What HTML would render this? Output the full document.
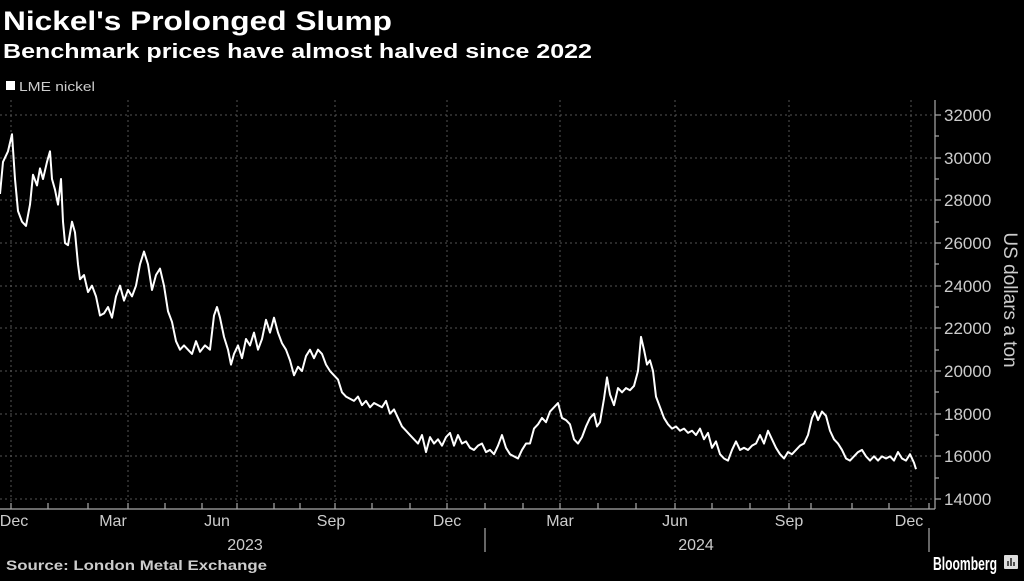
<!DOCTYPE html>
<html><head><meta charset="utf-8"><style>
body{margin:0;background:#000;width:1024px;height:576px;overflow:hidden;font-family:"Liberation Sans",sans-serif;color:#fff}
</style></head><body>
<svg width="1024" height="576" viewBox="0 0 1024 576" xmlns="http://www.w3.org/2000/svg" font-family="Liberation Sans, sans-serif">
<rect width="1024" height="576" fill="#000"/>
<text x="3" y="30" font-size="27" font-weight="bold" fill="#fff" textLength="389" lengthAdjust="spacingAndGlyphs">Nickel's Prolonged Slump</text>
<text x="3" y="58" font-size="20" font-weight="bold" fill="#fff" textLength="589" lengthAdjust="spacingAndGlyphs">Benchmark prices have almost halved since 2022</text>
<rect x="6" y="81" width="9" height="9" fill="#fff"/>
<text x="19" y="91" font-size="13" fill="#ccc" textLength="76" lengthAdjust="spacingAndGlyphs">LME nickel</text>
<g stroke="#555" stroke-dasharray="2,3" stroke-width="1">
<line x1="0" x2="933" y1="115" y2="115"/><line x1="0" x2="933" y1="158" y2="158"/><line x1="0" x2="933" y1="200" y2="200"/><line x1="0" x2="933" y1="243" y2="243"/><line x1="0" x2="933" y1="286" y2="286"/><line x1="0" x2="933" y1="328" y2="328"/><line x1="0" x2="933" y1="371" y2="371"/><line x1="0" x2="933" y1="414" y2="414"/><line x1="0" x2="933" y1="456" y2="456"/><line x1="0" x2="933" y1="499" y2="499"/>
<line x1="11" x2="11" y1="100" y2="508"/><line x1="128" x2="128" y1="100" y2="508"/><line x1="237" x2="237" y1="100" y2="508"/><line x1="335" x2="335" y1="100" y2="508"/><line x1="447" x2="447" y1="100" y2="508"/><line x1="560" x2="560" y1="100" y2="508"/><line x1="675" x2="675" y1="100" y2="508"/><line x1="789" x2="789" y1="100" y2="508"/><line x1="911" x2="911" y1="100" y2="508"/>
</g>
<g stroke="#aaa" stroke-width="1.2" fill="none">
<line x1="935" y1="100" x2="935" y2="509"/>
<line x1="0" y1="509" x2="935" y2="509"/>
<line x1="935" x2="941" y1="115" y2="115"/><line x1="935" x2="941" y1="158" y2="158"/><line x1="935" x2="941" y1="200" y2="200"/><line x1="935" x2="941" y1="243" y2="243"/><line x1="935" x2="941" y1="286" y2="286"/><line x1="935" x2="941" y1="328" y2="328"/><line x1="935" x2="941" y1="371" y2="371"/><line x1="935" x2="941" y1="414" y2="414"/><line x1="935" x2="941" y1="456" y2="456"/><line x1="935" x2="941" y1="499" y2="499"/>
<line x1="935" x2="939" y1="136" y2="136"/><line x1="935" x2="939" y1="179" y2="179"/><line x1="935" x2="939" y1="222" y2="222"/><line x1="935" x2="939" y1="264" y2="264"/><line x1="935" x2="939" y1="307" y2="307"/><line x1="935" x2="939" y1="350" y2="350"/><line x1="935" x2="939" y1="392" y2="392"/><line x1="935" x2="939" y1="435" y2="435"/><line x1="935" x2="939" y1="478" y2="478"/>
<line x1="11" x2="11" y1="503" y2="509"/><line x1="48" x2="48" y1="503" y2="509"/><line x1="88" x2="88" y1="503" y2="509"/><line x1="128" x2="128" y1="503" y2="509"/><line x1="165" x2="165" y1="503" y2="509"/><line x1="202" x2="202" y1="503" y2="509"/><line x1="237" x2="237" y1="503" y2="509"/><line x1="274" x2="274" y1="503" y2="509"/><line x1="300" x2="300" y1="503" y2="509"/><line x1="335" x2="335" y1="503" y2="509"/><line x1="372" x2="372" y1="503" y2="509"/><line x1="410" x2="410" y1="503" y2="509"/><line x1="447" x2="447" y1="503" y2="509"/><line x1="485" x2="485" y1="503" y2="509"/><line x1="523" x2="523" y1="503" y2="509"/><line x1="560" x2="560" y1="503" y2="509"/><line x1="598" x2="598" y1="503" y2="509"/><line x1="636" x2="636" y1="503" y2="509"/><line x1="675" x2="675" y1="503" y2="509"/><line x1="712" x2="712" y1="503" y2="509"/><line x1="750" x2="750" y1="503" y2="509"/><line x1="789" x2="789" y1="503" y2="509"/><line x1="811" x2="811" y1="503" y2="509"/><line x1="852" x2="852" y1="503" y2="509"/><line x1="889" x2="889" y1="503" y2="509"/><line x1="929" x2="929" y1="503" y2="509"/>
<line x1="485" x2="485" y1="528" y2="552"/><line x1="929" x2="929" y1="528" y2="552"/>
</g>
<g font-size="17" fill="#ccc">
<text x="944" y="121">32000</text><text x="944" y="164">30000</text><text x="944" y="206">28000</text><text x="944" y="249">26000</text><text x="944" y="292">24000</text><text x="944" y="334">22000</text><text x="944" y="377">20000</text><text x="944" y="420">18000</text><text x="944" y="462">16000</text><text x="944" y="505">14000</text>
</g>
<g font-size="16" fill="#ccc" text-anchor="middle">
<text x="14" y="526">Dec</text><text x="113" y="526">Mar</text><text x="217" y="526">Jun</text><text x="331" y="526">Sep</text><text x="447" y="526">Dec</text><text x="560" y="526">Mar</text><text x="675" y="526">Jun</text><text x="789" y="526">Sep</text><text x="909" y="526">Dec</text>
<text x="245" y="550">2023</text><text x="696" y="550">2024</text>
</g>
<text transform="translate(1004,300) rotate(90)" font-size="19" fill="#ccc" text-anchor="middle">US dollars a ton</text>
<g transform="matrix(1,0,0,-0.021333,0,797.67)">
<polyline vector-effect="non-scaling-stroke" fill="none" stroke="#fff" stroke-width="2" stroke-linejoin="round" points="0,28300 3,29800 8,30300 12,31100 15,29000 18,27500 22,27000 26,26800 30,27800 33,29200 37,28700 40,29500 43,29000 47,29800 50,30300 52,29000 55,28500 58,27800 61,29000 63,27000 65,26000 68,25900 72,27000 75,26500 78,25000 80,24300 84,24500 88,23700 92,24000 96,23500 100,22600 104,22700 108,23000 112,22500 116,23500 120,24000 124,23300 128,23800 132,23500 136,24000 140,25000 144,25600 148,25000 152,23800 156,24500 160,24800 164,24000 168,22800 172,22300 176,21400 180,21000 184,21200 188,21000 192,20800 196,21400 200,20900 205,21200 210,21000 214,22600 217,23000 220,22500 224,21600 228,21000 231,20300 234,20800 238,21200 242,20600 246,21500 250,21200 254,21800 258,21000 262,21500 266,22400 270,21800 274,22500 278,21800 282,21300 286,21000 290,20500 294,19800 298,20200 302,20000 306,20700 310,21000 314,20600 318,21000 322,20800 326,20300 330,20000 334,19800 338,19600 342,19000 346,18800 350,18700 354,18600 358,18800 362,18400 366,18600 370,18300 374,18500 378,18400 382,18300 386,18600 390,18000 394,18200 398,17800 402,17400 406,17200 410,17000 414,16800 418,16600 422,17000 426,16200 430,16900 434,16600 438,16800 442,16500 446,16900 450,17100 454,16500 458,17000 462,16600 466,16700 470,16400 474,16300 478,16500 482,16600 486,16200 490,16300 494,16100 498,16500 502,17000 506,16400 510,16100 514,16000 518,15900 522,16300 526,16600 530,16600 534,17300 538,17500 542,17800 546,17600 550,18100 554,18300 558,18500 562,17800 566,17700 570,17500 574,16800 578,16600 582,16900 586,17400 590,17800 594,18000 597,17400 600,17600 604,18700 607,19700 610,18900 614,18400 618,19200 622,19000 626,19200 630,19100 634,19300 638,20000 641,21600 644,21000 647,20300 650,20500 653,20000 656,18800 660,18300 664,17800 668,17500 672,17300 676,17400 680,17200 684,17300 688,17100 692,17200 696,17000 700,17300 704,16800 708,17100 712,16400 716,16700 720,16100 724,15900 728,15800 732,16300 736,16700 740,16300 744,16400 748,16300 752,16500 756,16600 760,17000 764,16600 768,17200 772,16800 776,16400 780,16100 784,15900 788,16200 792,16100 796,16300 800,16500 804,16600 808,17000 812,17800 815,18100 818,17700 822,18100 826,17900 830,17200 834,16800 838,16600 842,16300 846,15900 850,15800 854,16000 858,16200 862,16300 866,16000 870,15800 874,16000 878,15800 882,16000 886,15900 890,16000 894,15800 898,16200 902,15900 906,15800 910,16100 914,15700 916,15400"/>
</g>
<text x="6" y="570" font-size="14" font-weight="bold" fill="#ccc" textLength="261" lengthAdjust="spacingAndGlyphs">Source: London Metal Exchange</text>
<text x="933" y="570" font-size="18" font-weight="bold" fill="#fff" textLength="64" lengthAdjust="spacingAndGlyphs">Bloomberg</text>
<rect x="1004" y="555" width="14" height="14" fill="#ddd" rx="1"/>
<g stroke="#000" stroke-width="1.3"><line x1="1008" y1="566" x2="1008" y2="561"/><line x1="1011" y1="566" x2="1011" y2="558"/><line x1="1014" y1="566" x2="1014" y2="562"/></g>
</svg>
</body></html>
